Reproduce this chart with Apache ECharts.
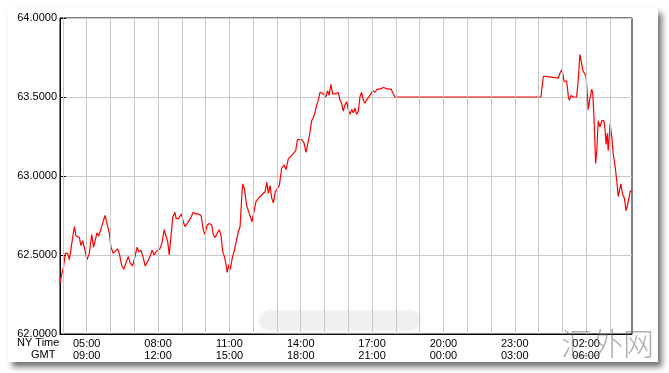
<!DOCTYPE html>
<html>
<head>
<meta charset="utf-8">
<script src="https://cdn.jsdelivr.net/npm/echarts@6/dist/echarts.min.js"></script>
<style>
html,body{margin:0;padding:0;background:#fff;}
#chart{width:669px;height:373px;}
</style>
</head>
<body>
<div id="chart"></div>
<script>
// Time in NY hours (values above 24 are next day), price values
var times = [3.88,3.92,4.02,4.10,4.20,4.27,4.31,4.38,4.48,4.55,4.62,4.69,4.76,4.83,4.90,5.01,5.11,5.21,5.29,5.36,5.43,5.50,5.57,5.67,5.77,5.85,5.95,6.02,6.12,6.20,6.30,6.37,6.48,6.56,6.65,6.75,6.83,6.93,7.03,7.12,7.19,7.28,7.38,7.46,7.57,7.66,7.75,7.84,7.91,7.99,8.08,8.17,8.26,8.33,8.41,8.47,8.55,8.62,8.71,8.76,8.85,8.92,8.99,9.06,9.13,9.23,9.31,9.39,9.48,9.58,9.69,9.81,9.90,9.97,10.07,10.16,10.26,10.32,10.40,10.49,10.58,10.65,10.72,10.79,10.86,10.91,10.98,11.04,11.12,11.21,11.28,11.38,11.45,11.52,11.56,11.63,11.73,11.82,11.90,11.95,12.04,12.12,12.22,12.29,12.36,12.43,12.50,12.57,12.64,12.71,12.78,12.85,12.93,13.02,13.10,13.20,13.30,13.38,13.48,13.55,13.62,13.69,13.79,13.86,13.94,14.04,14.14,14.22,14.29,14.36,14.46,14.53,14.60,14.67,14.74,14.81,14.88,14.95,15.05,15.13,15.19,15.27,15.34,15.41,15.48,15.58,15.65,15.72,15.79,15.86,15.93,16.00,16.07,16.14,16.21,16.28,16.35,16.42,16.49,16.56,16.63,16.70,16.77,16.84,16.91,17.03,17.12,17.22,17.33,17.47,17.54,17.68,17.80,17.89,17.96,18.06,18.17,24.10,24.20,24.30,24.37,24.83,24.90,24.97,25.02,25.07,25.18,25.25,25.29,25.37,25.46,25.60,25.67,25.74,25.79,25.86,25.92,26.00,26.05,26.09,26.16,26.24,26.28,26.33,26.40,26.45,26.51,26.58,26.66,26.75,26.80,26.84,26.89,26.93,27.01,27.08,27.14,27.22,27.29,27.35,27.46,27.54,27.61,27.68,27.75,27.85,27.92];
var prices = [62.32,62.36,62.42,62.51,62.51,62.47,62.46,62.58,62.68,62.62,62.63,62.61,62.56,62.59,62.55,62.47,62.51,62.63,62.55,62.55,62.64,62.62,62.65,62.70,62.75,62.70,62.64,62.55,62.51,62.52,62.54,62.51,62.43,62.41,62.45,62.49,62.45,62.43,62.49,62.55,62.52,62.53,62.48,62.43,62.46,62.49,62.53,62.50,62.52,62.51,62.54,62.58,62.66,62.67,62.58,62.50,62.51,62.74,62.77,62.73,62.73,62.74,62.76,62.71,62.68,62.70,62.71,62.74,62.77,62.76,62.76,62.75,62.66,62.63,62.69,62.70,62.69,62.63,62.61,62.64,62.66,62.62,62.52,62.49,62.44,62.39,62.44,62.41,62.48,62.53,62.58,62.65,62.68,62.87,62.95,62.92,62.81,62.77,62.77,62.71,62.78,62.84,62.86,62.85,62.88,62.87,62.90,62.96,62.89,62.94,62.86,62.83,62.90,62.92,62.94,63.05,63.07,63.04,63.11,63.10,63.13,63.12,63.16,63.23,63.24,63.23,63.21,63.15,63.20,63.25,63.35,63.37,63.40,63.45,63.48,63.53,63.53,63.52,63.50,63.54,63.51,63.58,63.52,63.53,63.52,63.53,63.48,63.46,63.41,63.45,63.47,63.42,63.39,63.42,63.40,63.43,63.39,63.41,63.50,63.53,63.48,63.46,63.48,63.49,63.51,63.54,63.53,63.55,63.55,63.56,63.55,63.55,63.55,63.52,63.50,63.50,63.50,63.50,63.63,63.63,63.62,63.62,63.65,63.67,63.65,63.60,63.60,63.51,63.48,63.51,63.50,63.50,63.61,63.77,63.77,63.67,63.66,63.63,63.52,63.42,63.49,63.55,63.52,63.38,63.08,63.16,63.35,63.31,63.35,63.35,63.29,63.20,63.27,63.16,63.33,63.25,63.14,63.06,62.97,62.87,62.95,62.88,62.86,62.78,62.82,62.90,62.91];
var gridHours = [4,5,6,7,8,9,10,11,12,13,14,15,16,17,18,19,20,21,22,23,24,25,26,27];
var labelHours = [5,8,11,14,17,20,23,26];
var gmtOffset = 4;

function pad(h){ h = ((h % 24) + 24) % 24; return (h < 10 ? '0' : '') + h + ':00'; }

var chart = echarts.init(document.getElementById('chart'));
var seriesData = times.map(function(t, i){ return [t, prices[i]]; });

chart.setOption({
  animation: false,
  backgroundColor: '#fff',
  textStyle: { fontFamily: 'Liberation Sans, Arial, sans-serif' },
  graphic: [
    { type: 'rect', z: -10, shape: { x: 8, y: 8, width: 650, height: 354 },
      style: { fill: '#fff', shadowBlur: 6, shadowOffsetX: 4, shadowOffsetY: 5, shadowColor: 'rgba(0,0,0,0.55)' } },
    { type: 'rect', z: 5, shape: { x: 260, y: 311, width: 160, height: 19, r: 9 },
      style: { fill: '#efefef', shadowBlur: 6, shadowColor: '#efefef' } },
    { type: 'text', z: 20, left: 17, top: 337,
      style: { text: 'NY Time', fill: '#000', font: '11px Liberation Sans, Arial, sans-serif' } },
    { type: 'text', z: 20, left: 31, top: 349,
      style: { text: 'GMT', fill: '#000', font: '11px Liberation Sans, Arial, sans-serif' } },
    { type: 'text', z: 30, left: 561, top: 328,
      style: { text: '汇外网', fill: 'rgba(110,110,110,0.55)', font: '300 31px "Noto Sans CJK SC", sans-serif' } }
  ],
  grid: { left: 60, right: 37, top: 18, bottom: 39, show: true, borderColor: '#000', borderWidth: 1, backgroundColor: 'transparent' },
  xAxis: {
    type: 'value', min: 3.877, max: 27.93,
    axisLine: { show: true, lineStyle: { color: '#000', width: 1 } },
    axisTick: { show: false },
    splitLine: { show: false },
    axisLabel: {
      customValues: labelHours,
      color: '#000', fontSize: 11, lineHeight: 12, margin: 4,
      formatter: function(v){ return pad(Math.round(v)) + '\n' + pad(Math.round(v) + gmtOffset); }
    }
  },
  yAxis: {
    type: 'value', min: 62, max: 64, interval: 0.5,
    axisLine: { show: true, lineStyle: { color: '#000', width: 1 } },
    axisTick: { show: true, inside: true, length: 6, lineStyle: { color: '#000' } },
    splitLine: { show: true, lineStyle: { color: '#c8c8c8', width: 1 } },
    axisLabel: { color: '#000', fontSize: 11, margin: 3, formatter: function(v){ return v.toFixed(4); } }
  },
  series: [
    { type: 'line', data: [], z: 1, silent: true,
      markLine: { silent: true, symbol: 'none', label: { show: false },
        lineStyle: { color: '#c8c8c8', width: 1, type: 'solid' },
        data: gridHours.map(function(h){ return { xAxis: h }; }) } },
    { type: 'line', data: seriesData, z: 3, symbol: 'none', showSymbol: false,
      lineStyle: { color: '#ff0000', width: 1.2 } }
  ]
});
</script>
</body>
</html>
